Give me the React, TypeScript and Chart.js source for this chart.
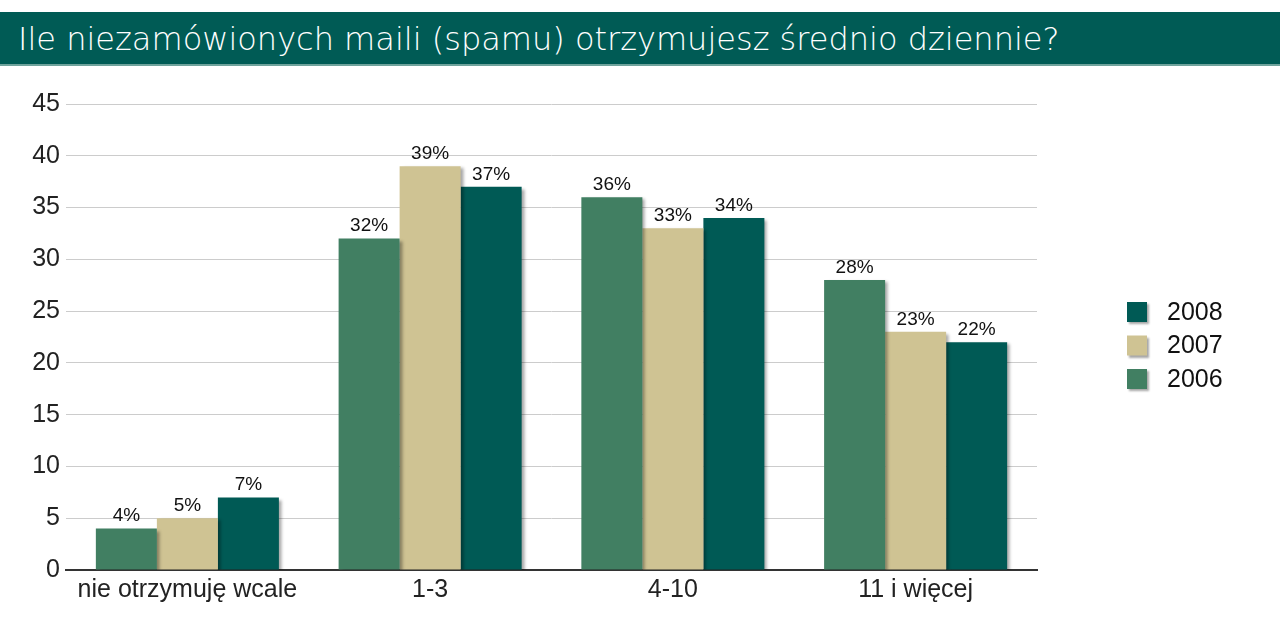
import React, { useEffect, useRef } from "react";
import { Chart, registerables } from "chart.js";

Chart.register(...registerables);

const TITLE = "Ile niezamówionych maili (spamu) otrzymujesz średnio dziennie?";
const categories = ["nie otrzymuję wcale", "1-3", "4-10", "11 i więcej"];
const seriesNames = ["2006", "2007", "2008"];
const values2006 = [4, 32, 36, 28];
const values2007 = [5, 39, 33, 23];
const values2008 = [7, 37, 34, 22];
const colors = ["#417F62", "#CFC393", "#005A55"];
const yTicks = [0, 5, 10, 15, 20, 25, 30, 35, 40, 45];

const FONT = "'Liberation Sans', Arial, sans-serif";

const shadowPlugin = {
  id: "barShadow",
  beforeDatasetsDraw(chart: any) {
    const ctx = chart.ctx;
    ctx.save();
    ctx.shadowColor = "rgba(0,0,0,0.35)";
    ctx.shadowBlur = 3;
    ctx.shadowOffsetX = 3;
    ctx.shadowOffsetY = 2;
  },
  afterDatasetsDraw(chart: any) {
    chart.ctx.restore();
  },
};

const labelPlugin = {
  id: "barLabels",
  afterDatasetsDraw(chart: any) {
    const ctx = chart.ctx;
    ctx.save();
    ctx.font = "19px " + FONT;
    ctx.fillStyle = "#111";
    ctx.textAlign = "center";
    ctx.textBaseline = "bottom";
    chart.data.datasets.forEach((ds: any, i: number) => {
      const meta = chart.getDatasetMeta(i);
      meta.data.forEach((bar: any, j: number) => {
        ctx.fillText(ds.data[j] + "%", bar.x, bar.y - 3);
      });
    });
    ctx.restore();
  },
};

const legendPlugin = {
  id: "customLegend",
  afterDraw(chart: any) {
    const ctx = chart.ctx;
    ctx.save();
    const order = [2, 1, 0];
    order.forEach((idx, k) => {
      const cy = 312 + k * 33.5;
      ctx.shadowColor = "rgba(0,0,0,0.35)";
      ctx.shadowBlur = 2;
      ctx.shadowOffsetX = 2;
      ctx.shadowOffsetY = 2;
      ctx.fillStyle = colors[idx];
      ctx.fillRect(1127, cy - 10, 20, 20);
      ctx.shadowColor = "transparent";
      ctx.fillStyle = "#111";
      ctx.font = "25px " + FONT;
      ctx.textAlign = "left";
      ctx.textBaseline = "middle";
      ctx.fillText(seriesNames[idx], 1167, cy + 1);
    });
    ctx.restore();
  },
};

export default function App() {
  const ref = useRef<HTMLCanvasElement>(null);
  useEffect(() => {
    document.body.style.margin = "0";
    const chart = new Chart(ref.current!, {
      type: "bar",
      data: {
        labels: categories,
        datasets: [
          { label: seriesNames[0], data: values2006, backgroundColor: colors[0] },
          { label: seriesNames[1], data: values2007, backgroundColor: colors[1] },
          { label: seriesNames[2], data: values2008, backgroundColor: colors[2] },
        ],
      },
      options: {
        animation: false,
        responsive: false,
        maintainAspectRatio: false,
        layout: { padding: { top: 104, right: 243, bottom: 0, left: 0 } },
        datasets: { bar: { categoryPercentage: 0.754, barPercentage: 1 } },
        plugins: { legend: { display: false }, tooltip: { enabled: false } },
        scales: {
          x: {
            grid: { display: false, drawTicks: false },
            border: { display: true, color: "#333", width: 2 },
            ticks: {
              color: "#222",
              font: { family: FONT, size: 25 },
              padding: 5,
              maxRotation: 0,
            },
            afterFit: (s: any) => { s.height = 58; },
          },
          y: {
            min: 0,
            max: 45,
            afterBuildTicks: (s: any) => { s.ticks = yTicks.map((v) => ({ value: v })); },
            grid: { color: "#cccccc", lineWidth: 1, drawTicks: false },
            border: { display: false },
            ticks: {
              color: "#222",
              font: { family: FONT, size: 25 },
              padding: 6,
            },
            afterFit: (s: any) => { s.width = 66; },
          },
        },
      },
      plugins: [shadowPlugin, labelPlugin, legendPlugin],
    });
    return () => chart.destroy();
  }, []);
  return (
    <div style={{ position: "relative", width: 1280, height: 628, background: "#fff" }}>
      <canvas ref={ref} width={1280} height={628} style={{ position: "absolute", left: 0, top: 0 }} />
      <div
        style={{
          position: "absolute",
          left: 0,
          top: 12,
          width: 1280,
          height: 54,
          background: "#005B55",
          borderBottom: "2px solid #6FA39C",
          boxSizing: "border-box",
          color: "#fff",
          fontFamily: "'DejaVu Sans', sans-serif",
          fontWeight: 200,
          fontSize: 32,
          lineHeight: "54px",
          paddingLeft: 18,
          whiteSpace: "nowrap",
        }}
      >
        {TITLE}
      </div>
    </div>
  );
}
